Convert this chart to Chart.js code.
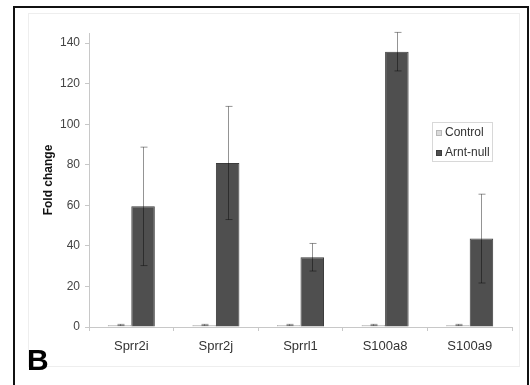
<!DOCTYPE html>
<html>
<head>
<meta charset="utf-8">
<script src="https://cdn.jsdelivr.net/npm/chart.js@4.4.0/dist/chart.umd.min.js"></script>
<style>
  html, body { margin: 0; padding: 0; background: #fff; }
  #wrap { position: relative; width: 530px; height: 385px; }
  #frame { position: absolute; left: 13px; top: 6px; width: 516px; height: 390px; border: 2px solid #111; box-sizing: border-box; }
  #inner { position: absolute; left: 28px; top: 13px; width: 492px; height: 354px; border: 1px solid #eee; box-sizing: border-box; }
  #panel { position: absolute; left: 27px; top: 343px; font: bold 30px "Liberation Sans", Arial, sans-serif; color: #000; }
  canvas { position: absolute; left: 0; top: 0; }
</style>
</head>
<body>
<div id="wrap">
  <div id="inner"></div>
  <canvas id="chart" width="530" height="385"></canvas>
  <div id="frame"></div>
  <div id="panel">B</div>
</div>
<script>
const genes = ['Sprr2i', 'Sprr2j', 'Sprrl1', 'S100a8', 'S100a9'];
const control = [1.0, 1.0, 1.0, 1.0, 1.0];
const controlErr = [0.3, 0.3, 0.3, 0.3, 0.3];
const arntNull = [59.5, 80.9, 34.4, 135.8, 43.6];
const arntNullErr = [29.2, 27.9, 6.8, 9.5, 21.9];
const yTicks = [0, 20, 40, 60, 80, 100, 120, 140];

const font = "'Liberation Sans', Arial, sans-serif";

// error bars, drawn over the bars
const errorBars = {
  id: 'errorBars',
  afterDatasetsDraw(chart) {
    const ctx = chart.ctx;
    const y = chart.scales.y;
    const errs = [controlErr, arntNullErr];
    ctx.save();
    ctx.strokeStyle = 'rgba(0,0,0,0.42)';
    ctx.lineWidth = 1;
    chart.data.datasets.forEach((ds, di) => {
      chart.getDatasetMeta(di).data.forEach((bar, i) => {
        const v = ds.data[i], e = errs[di][i];
        const x = Math.round(bar.x) + 0.5;
        const top = y.getPixelForValue(v + e), bot = y.getPixelForValue(v - e);
        ctx.beginPath();
        ctx.moveTo(x, top); ctx.lineTo(x, bot);
        ctx.moveTo(x - 3, top); ctx.lineTo(x + 4, top);
        ctx.moveTo(x - 3, bot); ctx.lineTo(x + 4, bot);
        ctx.stroke();
      });
    });
    ctx.restore();
  }
};

// legend box inside the plot, right side
const boxLegend = {
  id: 'boxLegend',
  afterDraw(chart) {
    const ctx = chart.ctx;
    const x0 = 432, y0 = 122, w = 60, h = 39;
    ctx.save();
    ctx.fillStyle = '#fff';
    ctx.fillRect(x0, y0, w, h);
    ctx.strokeStyle = '#d8d8d8';
    ctx.lineWidth = 1;
    ctx.strokeRect(x0 + 0.5, y0 + 0.5, w, h);
    ctx.font = '12px ' + font;
    ctx.textBaseline = 'middle';
    chart.data.datasets.forEach((ds, i) => {
      const cy = y0 + 11 + i * 20;
      ctx.fillStyle = ds.backgroundColor;
      ctx.fillRect(x0 + 4, cy - 3, 6, 6);
      ctx.strokeStyle = ds.borderColor;
      ctx.strokeRect(x0 + 4.5, cy - 2.5, 5, 5);
      ctx.fillStyle = '#333';
      ctx.fillText(ds.label, x0 + 13, cy);
    });
    ctx.restore();
  }
};

new Chart(document.getElementById('chart'), {
  type: 'bar',
  data: {
    labels: genes,
    datasets: [
      { label: 'Control', data: control, backgroundColor: '#dadada', borderColor: '#b8b8b8', borderWidth: 1 },
      { label: 'Arnt-null', data: arntNull, backgroundColor: '#4f4f4f', borderColor: '#3c3c3c', borderWidth: 1 }
    ]
  },
  options: {
    responsive: false,
    animation: false,
    layout: { padding: { top: 33, right: 18, bottom: 0, left: 41 } },
    datasets: { bar: { categoryPercentage: 0.556, barPercentage: 1.0 } },
    plugins: { legend: { display: false }, tooltip: { enabled: false } },
    scales: {
      x: {
        grid: { display: true, drawOnChartArea: false, offset: true, tickLength: 4, color: '#c8c8c8' },
        border: { color: '#c8c8c8' },
        ticks: { color: '#333', font: { family: font, size: 13 }, padding: 8 },
        afterFit(scale) { scale.height = 58; }
      },
      y: {
        min: 0,
        max: 145,
        afterBuildTicks(scale) { scale.ticks = yTicks.map(v => ({ value: v })); },
        grid: { display: true, drawOnChartArea: false, tickLength: 4, color: '#c8c8c8' },
        border: { color: '#c8c8c8' },
        ticks: { color: '#444', font: { family: font, size: 12 }, padding: 5 },
        title: { display: true, text: 'Fold change', color: '#111', font: { family: font, size: 12, weight: 'bold' }, padding: 0 },
        afterFit(scale) { scale.width = 48; }
      }
    }
  },
  plugins: [errorBars, boxLegend]
});
</script>
</body>
</html>
